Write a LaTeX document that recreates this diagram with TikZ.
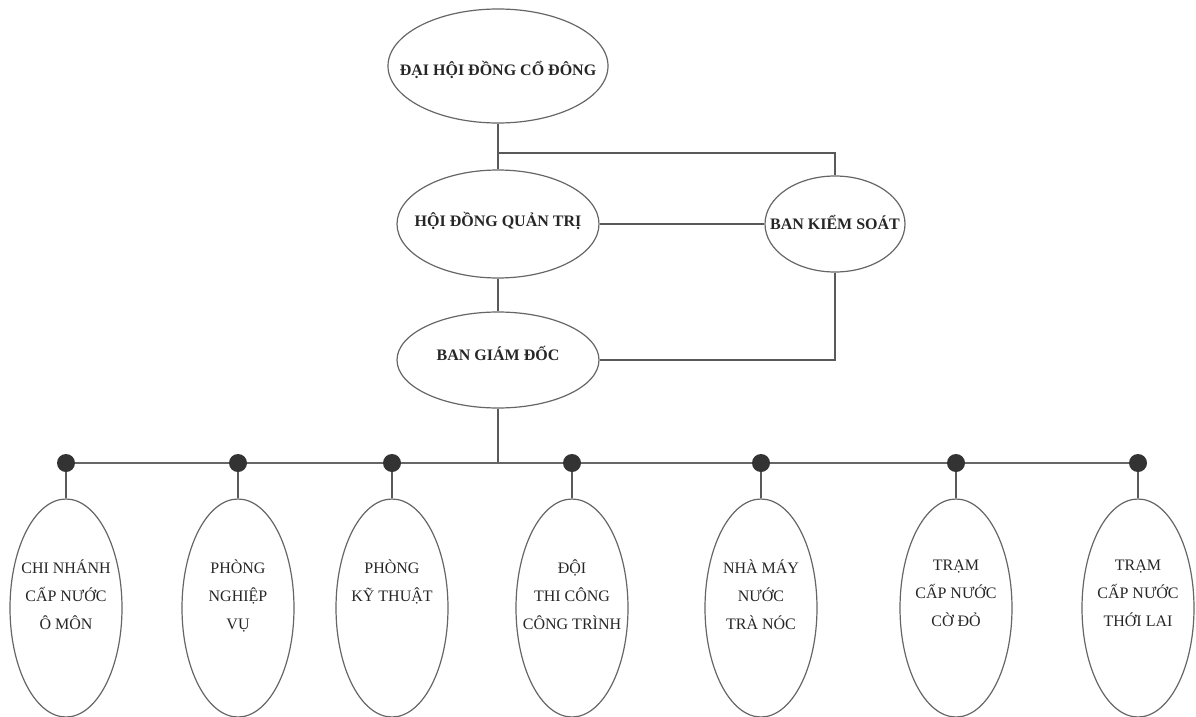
\documentclass[tikz,border=0pt]{standalone}
\usepackage{fontspec}
\setmainfont{Liberation Serif}
\usetikzlibrary{positioning,shapes.geometric}
\tikzset{
  office/.style={ellipse,draw=black!60,line width=1.2pt,inner sep=0pt},
  officetext/.style={font=\bfseries\fontsize{16}{19}\selectfont,text=black!85,inner sep=0pt},
  unit/.style={ellipse,draw=black!60,line width=1.2pt,inner sep=0pt,minimum width=112pt,minimum height=218pt},
  unittext/.style={font=\fontsize{16}{28}\selectfont,align=center,text=black!85,inner sep=0pt,execute at begin node=\strut},
  link/.style={draw=black!65,line width=1.3pt},
  bus/.style={draw=black!60,line width=2.6pt},
  dotfill/.style={fill=black!80}
}
\begin{document}
\begin{tikzpicture}[x=1pt,y=-1pt]
\useasboundingbox (0,0) rectangle (1196,717);
% ban lanh dao
\node[office,minimum width=220pt,minimum height=114pt] (dh) at (498,66) {};
\node[officetext] (dhtext) at ([yshift=-4pt]dh.center) {ĐẠI HỘI ĐỒNG CỔ ĐÔNG};
\node[office,minimum width=202pt,minimum height=108pt] (hdqt) at (498,224) {};
\node[officetext] (hdqttext) at ([yshift=3pt]hdqt.center) {HỘI ĐỒNG QUẢN TRỊ};
\node[office,minimum width=140pt,minimum height=96pt] (bks) at (835,224) {};
\node[officetext] (bkstext) at ([yshift=2pt]bks.center) {BAN KIỂM SOÁT};
\node[office,minimum width=202pt,minimum height=96pt] (bgd) at (498,360) {};
\node[officetext] (bgdtext) at ([yshift=7pt]bgd.center) {BAN GIÁM ĐỐC};
\coordinate (nhanh) at (498,153);
\coordinate (hub) at (498,463);
\draw[link] (dh.south) -- (hdqt.north);
\draw[link] (nhanh) -| (bks.north);
\draw[link] (hdqt.east) -- (bks.west);
\draw[link] (hdqt.south) -- (bgd.north);
\draw[link] (bgd.east) -| (bks.south);
\draw[link] (bgd.south) -- (hub);
% don vi truc thuoc
\foreach \n/\x/\t in {cn/66/{CHI NHÁNH\\CẤP NƯỚC\\Ô MÔN},
    nv/238/{PHÒNG\\NGHIỆP\\VỤ},
    kt/392/{PHÒNG\\KỸ THUẬT},
    dtc/572/{ĐỘI\\THI CÔNG\\CÔNG TRÌNH},
    nm/761/{NHÀ MÁY\\NƯỚC\\TRÀ NÓC},
    cd/956/{TRẠM\\CẤP NƯỚC\\CỜ ĐỎ},
    tl/1138/{TRẠM\\CẤP NƯỚC\\THỚI LAI}}{
  \coordinate (d\n) at (\x,463);
  \node[unit] (u\n) at (\x,608) {};
  \node[unittext,below=61pt of u\n.north] (t\n) {\t};
  \draw[link] (d\n) -- (u\n.north);
}
\draw[bus] (dcn) -- (dtl);
\foreach \n in {cn,nv,kt,dtc,nm,cd,tl} \fill[dotfill] (d\n) circle (9);
\end{tikzpicture}
\end{document}
